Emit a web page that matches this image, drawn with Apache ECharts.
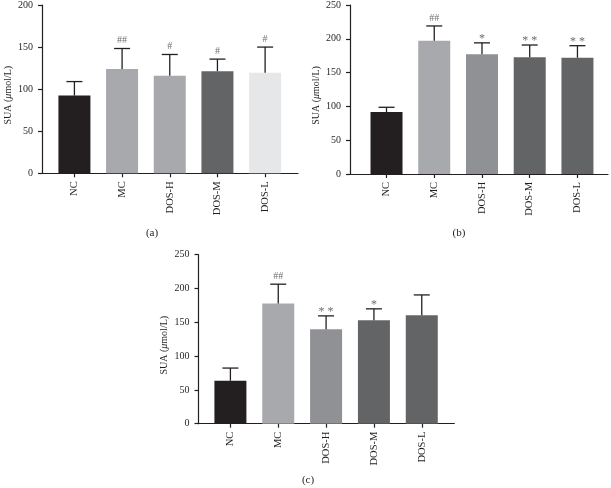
<!DOCTYPE html>
<html>
<head>
<meta charset="utf-8">
<script src="https://cdn.jsdelivr.net/npm/echarts@6/dist/echarts.min.js"></script>
<style>html,body{margin:0;padding:0;background:#fff}#c{width:611px;height:488px}</style>
</head>
<body>
<div id="c"></div>
<script>
const categories = ['NC', 'MC', 'DOS-H', 'DOS-M', 'DOS-L'];

const aMean = [92.4, 123.8, 115.8, 121.4, 119.4];
const aErr  = [16.6, 24.5, 25.4, 14.3, 30.6];
const aSig  = ['', '##', '#', '#', '#'];

const bMean = [91.7, 197.2, 177.0, 172.6, 172.0];
const bErr  = [7.0, 21.8, 17.0, 18.2, 17.8];
const bSig  = ['', '##', '*', '**', '**'];

const cMean = [63.5, 177.8, 139.9, 153.2, 160.6];
const cErr  = [18.8, 28.6, 19.6, 16.7, 29.9];
const cSig  = ['', '##', '**', '*', ''];

const aColors = ['#231f20', '#a7a9ac', '#a7a9ac', '#636466', '#e6e7e8'];
const bcColors = ['#231f20', '#a7a9ac', '#8f9194', '#636466', '#636466'];

const FONT = '"Liberation Serif", "DejaVu Serif", serif';
const INK = '#231f20';

const panels = [
  {grid: {left: 42, top: 5, width: 256, height: 168.3}, xmin: -0.68, xmax: 4.69, ymax: 200, mean: aMean, err: aErr, sig: aSig, colors: aColors},
  {grid: {left: 350, top: 5, width: 258, height: 169}, xmin: -0.765, xmax: 4.64, ymax: 250, mean: bMean, err: bErr, sig: bSig, colors: bcColors},
  {grid: {left: 198.5, top: 254.7, width: 255.8, height: 169}, xmin: -0.667, xmax: 4.68, ymax: 250, mean: cMean, err: cErr, sig: cSig, colors: bcColors}
];

const idx = categories.map((_, i) => i);
const grids = [], xAxes = [], yAxes = [], series = [];

panels.forEach((p, k) => {
  grids.push(Object.assign({containLabel: false}, p.grid));
  xAxes.push({
    gridIndex: k, type: 'value', min: p.xmin, max: p.xmax,
    splitLine: {show: false},
    axisLine: {show: true, onZero: false, lineStyle: {color: INK, width: 1.2}},
    axisTick: {show: true, customValues: idx, length: 4, lineStyle: {color: INK, width: 1.2}},
    axisLabel: {customValues: idx, rotate: 90, margin: 8, fontFamily: FONT, fontSize: 10.5, color: INK,
      formatter: v => categories[Math.round(v)]}
  });
  yAxes.push({
    gridIndex: k, type: 'value', min: 0, max: p.ymax, interval: 50,
    splitLine: {show: false},
    axisLine: {show: true, onZero: false, lineStyle: {color: INK, width: 1.2}},
    axisTick: {show: true, length: 4, lineStyle: {color: INK, width: 1.2}},
    axisLabel: {margin: 9, fontFamily: FONT, fontSize: 10, color: INK},
    name: '{n|SUA (}{i|μ}{n|mol/L)}',
    nameLocation: 'middle', nameRotate: 90, nameGap: 29,
    nameTextStyle: {padding: [0, 12, 0, 0], rich: {
      n: {fontFamily: FONT, fontSize: 10, color: INK},
      i: {fontFamily: FONT, fontSize: 10, color: INK, fontStyle: 'italic'}
    }}
  });
  series.push({
    type: 'bar', xAxisIndex: k, yAxisIndex: k, barWidth: 32,
    data: p.mean.map((v, i) => ({value: [i, v], itemStyle: {color: p.colors[i]}})),
    z: 2
  });
  series.push({
    type: 'custom', xAxisIndex: k, yAxisIndex: k, z: 3,
    data: p.mean.map((v, i) => [i, v, v + p.err[i]]),
    encode: {x: 0, y: [1, 2]},
    renderItem: function (params, api) {
      const i = params.dataIndex;
      const lo = api.coord([api.value(0), api.value(1)]);
      const hi = api.coord([api.value(0), api.value(2)]);
      const ls = {stroke: INK, lineWidth: 1.3};
      const children = [
        {type: 'line', shape: {x1: lo[0], y1: lo[1], x2: hi[0], y2: hi[1]}, style: ls},
        {type: 'line', shape: {x1: hi[0] - 8, y1: hi[1], x2: hi[0] + 8, y2: hi[1]}, style: ls}
      ];
      const s = p.sig[i];
      if (s) {
        const star = s.indexOf('*') >= 0;
        children.push({type: 'text', style: {
          text: star ? s.split('').join(' ') : s,
          x: hi[0], y: hi[1] - (star ? 4 : 8),
          align: 'center', verticalAlign: 'middle',
          fill: '#6d6e71', font: (star ? '12px ' : '10px ') + FONT
        }});
      }
      return {type: 'group', children: children};
    }
  });
});

const chart = echarts.init(document.getElementById('c'), null, {renderer: 'canvas'});
chart.setOption({
  animation: false,
  backgroundColor: '#fff',
  title: [
    {text: '(a)', left: 147, top: 223, textAlign: 'center', textStyle: {fontFamily: FONT, fontSize: 11, fontWeight: 'normal', color: INK}},
    {text: '(b)', left: 454, top: 223, textAlign: 'center', textStyle: {fontFamily: FONT, fontSize: 11, fontWeight: 'normal', color: INK}},
    {text: '(c)', left: 303, top: 470, textAlign: 'center', textStyle: {fontFamily: FONT, fontSize: 11, fontWeight: 'normal', color: INK}}
  ],
  grid: grids, xAxis: xAxes, yAxis: yAxes, series: series
});
</script>
</body>
</html>
